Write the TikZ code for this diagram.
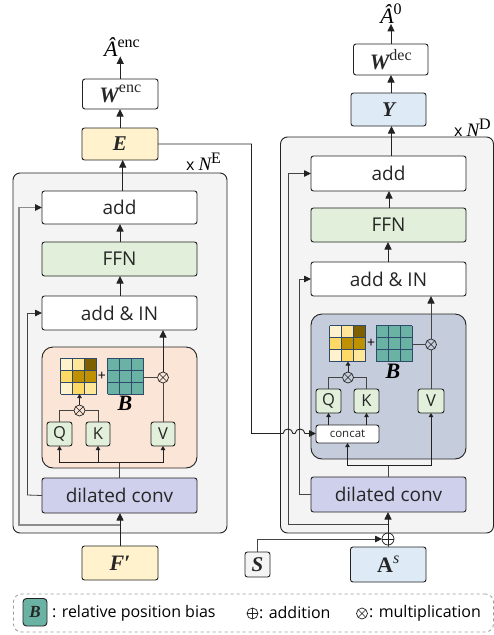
\documentclass[tikz,border=0pt]{standalone}
\usepackage{fontspec}
\setmainfont{Open Sans}
\newfontfamily\cam{Liberation Serif}
\usetikzlibrary{arrows.meta,calc}
\definecolor{ln}{HTML}{222222}
\definecolor{panelc}{HTML}{F4F4F4}
\definecolor{orangec}{HTML}{FBE5D6}
\definecolor{purplec}{HTML}{CFD1EC}
\definecolor{greenc}{HTML}{E2EFDA}
\definecolor{yellowc}{HTML}{FFF2CC}
\definecolor{bluec}{HTML}{DEEAF6}
\definecolor{slatec}{HTML}{C5CCDB}
\definecolor{tealc}{HTML}{6AB2A4}
\definecolor{gridc}{HTML}{2F4A6B}
\definecolor{y1}{HTML}{FFF2CC}
\definecolor{y2}{HTML}{FFE699}
\definecolor{y3}{HTML}{FFD966}
\definecolor{y4}{HTML}{BF9000}
\definecolor{y5}{HTML}{7F6000}
\definecolor{wire}{HTML}{444444}
\tikzset{
  bx/.style={draw=ln,line width=0.9pt,rounded corners=2.5pt,inner sep=0pt,outer sep=0pt,text=black!85},
  whitebox/.style={bx,fill=white},
  panel/.style={bx,fill=panelc,rounded corners=7pt},
  attn/.style={bx,rounded corners=11pt},
  big/.style={font=\fontsize{19}{19}\selectfont},
  letter/.style={font=\fontsize{16.5}{16.5}\selectfont},
  lab/.style={inner sep=0pt,outer sep=0pt},
  arr/.style={-{Triangle[length=7.5pt,width=7pt,color=ln]},line width=0.9pt,draw=ln},
  marr/.style={-{Triangle[length=7pt,width=6.5pt,color=ln]}},
  sarr/.style={-{Triangle[length=4pt,width=4.5pt,color=ln]},line width=0.8pt,draw=ln},
  wr/.style={line width=0.8pt,draw=wire},
  circ/.style={circle,draw=ln,line width=0.7pt,minimum size=11pt,inner sep=0pt,outer sep=0pt,fill=none},
  otimesn/.style={circ,path picture={
     \draw[line width=0.6pt,draw=ln] (path picture bounding box.north west)--(path picture bounding box.south east)
       (path picture bounding box.north east)--(path picture bounding box.south west);}},
  oplusn/.style={circ,path picture={
     \draw[line width=0.6pt,draw=ln] (path picture bounding box.north)--(path picture bounding box.south)
       (path picture bounding box.east)--(path picture bounding box.west);}},
}
\newcommand{\bxx}[7]{\node[#2,minimum width={(#5-#3)*1pt},minimum height={(#6-#4)*1pt}] (#1) at ({(#3+#5)/2},{(#4+#6)/2}) {#7};}
\newcommand{\bi}[1]{{\cam\bfseries\itshape #1}}
\newcommand{\sups}[1]{\raisebox{0.42em}{\cam\fontsize{16}{16}\selectfont #1}}
\newcommand{\gridlines}[2]{%
  \foreach \i in {0,12,24,36}{
    \draw[gridc,line width=0.7pt] ({#1+\i},#2) -- ++(0,36);
    \draw[gridc,line width=0.7pt] (#1,{#2+\i}) -- ++(36,0);}}
\newcommand{\yellowmat}[3]{%
  \foreach \c/\r/\k in {0/0/y1,1/0/y2,2/0/y5,0/1/y3,1/1/y4,2/1/y4,0/2/y1,1/2/y3,2/2/y2}
    {\fill[\k] ({#2+\c*12},{#3+\r*12}) rectangle ++(12,12);}
  \gridlines{#2}{#3}
  \node[minimum size=36pt,inner sep=0pt,outer sep=0pt] (#1) at ({#2+18},{#3+18}) {};}
\newcommand{\tealmat}[3]{%
  \fill[tealc] (#2,#3) rectangle ++(36,36);
  \gridlines{#2}{#3}
  \node[minimum size=36pt,inner sep=0pt,outer sep=0pt] (#1) at ({#2+18},{#3+18}) {};}
\begin{document}
\begin{tikzpicture}[x=1pt,y=-1pt]
\useasboundingbox (0,0) rectangle (494,635);
\fill[white] (0,0) rectangle (494,635);
%% panels
\bxx{pl}{panel}{13}{173}{227}{533}{}
\bxx{pr}{panel}{280.5}{137}{493.5}{533}{}
%% left column
\bxx{ladd}{whitebox,big}{42}{191}{197}{224}{add}
\bxx{lffn}{bx,fill=greenc,big}{42}{242}{197}{276}{FFN}
\bxx{lin}{whitebox,big}{42}{296}{197}{330}{add \& IN}
\bxx{latt}{attn,fill=orangec}{42}{347}{197}{468}{}
\bxx{ldil}{bx,fill=purplec,big}{42}{478}{197}{513}{dilated conv}
\bxx{lf}{bx,fill=yellowc,font=\fontsize{22}{22}\selectfont}{82}{546}{158}{580}{\bi{F′}}
\bxx{le}{bx,fill=yellowc,font=\fontsize{21}{21}\selectfont}{82}{128}{158}{160}{\bi{E}}
\bxx{lw}{whitebox,font=\fontsize{22}{22}\selectfont}{82.5}{79}{158}{109}{\bi{W}\sups{enc}}
\node[lab,font=\fontsize{22}{22}\selectfont] (lout) at (122,47) {{\cam\itshape Â}\sups{enc}};
\node[lab,font=\fontsize{16}{16}\selectfont,anchor=west] (lnx) at (186,162) {x {\cam\fontsize{19}{19}\selectfont\itshape N}\sups{E}};
\yellowmat{lm1}{60.5}{358}
\tealmat{lm2}{107.5}{358}
\node[lab] (lplus) at (102,376) {\fontsize{14}{14}\selectfont +};
\node[lab,font=\fontsize{22}{22}\selectfont] (lb) at (125,403) {\bi{B}};
\node[otimesn] (lo2) at (163,377.5) {};
\node[otimesn] (lo1) at (79.5,410.5) {};
\bxx{lq}{bx,fill=greenc,letter}{47}{422}{72}{446}{Q}
\bxx{lk}{bx,fill=greenc,letter}{86}{422}{110}{446}{K}
\bxx{lv}{bx,fill=greenc,letter}{151}{422}{175}{446}{V}
%% right column
\bxx{radd}{whitebox,big}{311}{156}{466}{191}{add}
\bxx{rffn}{bx,fill=greenc,big}{311}{208}{466}{242}{FFN}
\bxx{rin}{whitebox,big}{311}{262}{466}{296}{add \& IN}
\bxx{ratt}{attn,fill=slatec}{311}{314}{466}{459}{}
\bxx{rdil}{bx,fill=purplec,big}{311}{477}{466}{512}{dilated conv}
\bxx{ra}{bx,fill=bluec,font=\fontsize{22}{22}\selectfont}{350.5}{547}{426}{582}{{\cam\bfseries A}\sups{\itshape s}}
\bxx{rs}{bx,fill=panelc,font=\fontsize{21}{21}\selectfont}{245}{552}{270}{577}{\bi{S}}
\bxx{ry}{bx,fill=bluec,font=\fontsize{21}{21}\selectfont}{351}{93}{426}{126}{\bi{Y}}
\bxx{rw}{whitebox,font=\fontsize{22}{22}\selectfont}{353.5}{44}{428}{75}{\bi{W}\sups{dec}}
\node[lab,font=\fontsize{22}{22}\selectfont] (rout) at (391,14) {{\cam\itshape Â}\sups{0}};
\node[lab,font=\fontsize{16}{16}\selectfont,anchor=west] (rnx) at (454,128) {x {\cam\fontsize{19}{19}\selectfont\itshape N}\sups{D}};
\yellowmat{rm1}{329.5}{325.5}
\tealmat{rm2}{376}{325.5}
\node[lab] (rplus) at (371,343) {\fontsize{14}{14}\selectfont +};
\node[lab,font=\fontsize{22}{22}\selectfont] (rb) at (393,371) {\bi{B}};
\node[otimesn] (ro2) at (431,344.5) {};
\node[otimesn] (ro1) at (348,377.5) {};
\bxx{rq}{bx,fill=greenc,letter}{316}{389}{341}{413}{Q}
\bxx{rk}{bx,fill=greenc,letter}{354}{389}{379}{413}{K}
\bxx{rv}{bx,fill=greenc,letter}{418}{389}{444}{413}{V}
\bxx{rc}{whitebox,font=\fontsize{11.5}{11.5}\selectfont}{316}{425}{379}{443}{concat}
\node[oplusn,minimum size=12pt] (rp) at (388,539) {};
%% free points
\coordinate (lsplit) at (119.5,462);
\coordinate (ljoin) at (119.5,525);
\coordinate (louter) at (19,525);
\coordinate (linner) at (27,495);
\coordinate (rsplit) at (388,465);
\coordinate (rjoin) at (388,524);
\coordinate (router) at (288,524);
\coordinate (rinner) at (299.5,494.5);
\coordinate (turn) at (251.5,433.5);
\coordinate (h1a) at (283,433.5);\coordinate (h1b) at (293,433.5);
\coordinate (h2a) at (295,433.5);\coordinate (h2b) at (305,433.5);
%% left connectors
\draw[arr] (lf.north) -- (lf.north |- ldil.south);
\draw[arr] ([xshift=0.5pt]lin.north) -- ([xshift=0.5pt]lffn.south);
\draw[arr] ([xshift=0.5pt]lffn.north) -- ([xshift=0.5pt]ladd.south);
\draw[arr] (ladd.north -| 122.7,0) -- (le.south -| 122.7,0);
\draw[arr] (le.north) -- (le.north |- lw.south);
\draw[arr] (lw.north) -- (lw.north |- lout.south);
\draw[wr] (ldil.north -| lsplit) -- (lsplit);
\draw[sarr] (lsplit) -| (lq.south);
\draw[sarr] (lsplit) -| (lk.south);
\draw[sarr] (lsplit) -| (lv.south);
\draw[wr] (ldil.west) -- (linner);
\draw[wr,marr] (linner) |- (lin.west);
\draw[line width=1.1pt,draw=black!45,marr] (ljoin) -- (louter) |- (ladd.west);
\draw[wr] (lq.north) |- (lo1.west);
\draw[wr] (lk.north) |- (lo1.east);
\draw[sarr] (lo1.north) -- (lo1.north |- lm1.south);
\draw[wr] (lm2.east |- lo2) -- (lo2.west);
\draw[wr] (lv.north) -- (lo2.south);
\draw[arr] (lo2.north) -- (lo2.north |- lin.south);
%% right connectors
\draw[arr] (rp.north) -- (rp.north |- rdil.south);
\draw[wr] (ra.north -| rp) -- (rp.south);
\draw[wr,marr] (rs.north) |- (rp.west);
\draw[wr] (rjoin) -- (router);
\draw[wr,marr] (router) |- (radd.west);
\draw[wr] (rdil.west) -- (rinner);
\draw[wr,marr] (rinner) |- (rin.west);
\draw[wr] (rdil.north -| rsplit) -- (rsplit);
\draw[sarr] (rsplit) -| (rc.south);
\draw[sarr] (rsplit) -| (rv.south);
\draw[sarr] (rc.north -| rq) -- (rq.south);
\draw[sarr] (rc.north -| rk) -- (rk.south);
\draw[wr] (rq.north) |- (ro1.west);
\draw[wr] (rk.north) |- (ro1.east);
\draw[sarr] (ro1.north) -- (ro1.north |- rm1.south);
\draw[wr] (rm2.east |- ro2) -- (ro2.west);
\draw[wr] (rv.north) -- (ro2.south);
\draw[arr,draw=wire] (ro2.north) -- (ro2.north |- rin.south);
\draw[arr] (rin.north -| 388,0) -- (rffn.south -| 388,0);
\draw[arr] (rffn.north -| 389,0) -- (radd.south -| 389,0);
\draw[arr] (radd.north -| 391.5,0) -- (ry.south -| 391.5,0);
\draw[arr] (ry.north -| 391,0) -- (rw.south -| 391,0);
\draw[arr] (rw.north -| 391,0) -- (rout.south -| 391,0);
\draw[line width=0.9pt,draw=ln,marr] (le.east) -| (turn) -- (h1a)
  .. controls +(1,-6) and +(-1,-6) .. (h1b) -- (h2a)
  .. controls +(1,-6) and +(-1,-6) .. (h2b) -- (rc.west |- turn);
%% legend
\node[draw=black!40,dashed,line width=0.8pt,rounded corners=8pt,minimum width=480pt,minimum height=38pt,inner sep=0pt] (leg) at (253.5,613) {};
\bxx{lgb}{bx,fill=tealc,rounded corners=3.5pt,font=\fontsize{17}{17}\selectfont}{23}{598.5}{47}{626}{\bi{B}}
\node[lab,anchor=west,font=\fontsize{16}{16}\selectfont] (lgt1) at (52,613) {: relative position bias};
\node[oplusn] (lgp) at (252.5,613.5) {};
\node[lab,anchor=west,font=\fontsize{16}{16}\selectfont] (lgt2) at (259,613) {: addition};
\node[otimesn] (lgo) at (362,613.5) {};
\node[lab,anchor=west,font=\fontsize{16}{16}\selectfont] (lgt3) at (369,613) {: multiplication};
\end{tikzpicture}
\end{document}
